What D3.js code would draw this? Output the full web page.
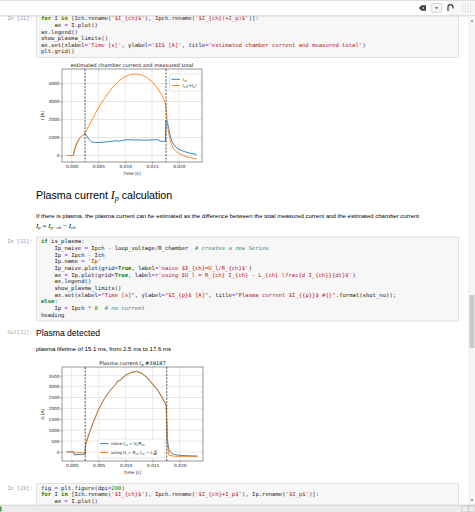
<!DOCTYPE html>
<html>
<head>
<meta charset="utf-8">
<script src="https://cdn.jsdelivr.net/npm/d3@7"></script>
<style>
  body { margin: 0; overflow: hidden; background: #fff; }
  svg { display: block; }
</style>
</head>
<body>
<div id="page"></div>
<script>
// notebook page with two matplotlib-style plots, drawn with d3

const W = 475, H = 512;

// ---- data ----
// chart 1: estimated chamber current and measured total
const ichTime   = [-0.0009, 0.0003, 0.0006, 0.001, 0.0015, 0.002, 0.0025, 0.0028, 0.0032, 0.0037, 0.0045, 0.0055, 0.0065, 0.0075, 0.0083, 0.0088, 0.0095, 0.0105, 0.0115, 0.0125, 0.0135, 0.0145, 0.0155, 0.016, 0.0165, 0.0172, 0.0175, 0.0176, 0.0179, 0.0182, 0.0186, 0.019, 0.0195, 0.020, 0.021, 0.022, 0.0233];
const ichValues = [0, 0, 380, 700, 960, 1100, 1230, 1100, 900, 760, 720, 730, 760, 790, 820, 790, 840, 880, 860, 870, 850, 860, 870, 880, 800, 780, 790, 1950, 1800, 1350, 850, 620, 450, 340, 220, 130, 60];

const ipchTime   = [-0.0009, 0.0003, 0.0006, 0.001, 0.0015, 0.002, 0.0025, 0.003, 0.004, 0.005, 0.006, 0.007, 0.008, 0.009, 0.010, 0.011, 0.012, 0.013, 0.014, 0.015, 0.016, 0.017, 0.0175, 0.0177, 0.018, 0.0185, 0.019, 0.0195, 0.020, 0.021, 0.022, 0.0233];
const ipchValues = [0, 0, 380, 700, 960, 1100, 1240, 1530, 2100, 2640, 3120, 3540, 3900, 4190, 4390, 4500, 4530, 4480, 4340, 4100, 3750, 3250, 2900, 2300, 1400, 700, 380, 220, 110, -20, -110, -190];

// chart 2: plasma current
const ipTime   = [-0.0009, 0.0003, 0.0005, 0.0025, 0.00255, 0.003, 0.004, 0.005, 0.006, 0.007, 0.008, 0.009, 0.010, 0.011, 0.012, 0.013, 0.014, 0.015, 0.016, 0.017, 0.0175, 0.0177, 0.018, 0.019, 0.021, 0.0233];
const ipValues = [0, 0, -30, -40, 300, 700, 1370, 1950, 2420, 2780, 3080, 3330, 3520, 3640, 3690, 3610, 3420, 3130, 2830, 2420, 2150, 400, -150, -200, -200, -200];

const ipNaiveTime   = [-0.0009, 0.0003, 0.0005, 0.0015, 0.0025, 0.00255, 0.003, 0.004, 0.005, 0.006, 0.007, 0.008, 0.0085, 0.009, 0.010, 0.011, 0.012, 0.013, 0.014, 0.015, 0.016, 0.017, 0.0175, 0.0177, 0.018, 0.0185, 0.019, 0.020, 0.021, 0.0233];
const ipNaiveValues = [10, 10, -130, -110, -100, 280, 680, 1360, 1960, 2430, 2790, 3060, 3250, 3290, 3530, 3650, 3700, 3600, 3400, 3100, 2800, 2380, 2120, 600, 100, -60, -120, -150, -170, -190];

const plasmaLimits = [0.0025, 0.0176];
const xTicks  = [0, 0.005, 0.010, 0.015, 0.020];
const yTicks1 = [0, 1000, 2000, 3000, 4000];
const yTicks2 = [0, 500, 1000, 1500, 2000, 2500, 3000, 3500];
const xLimits  = [-0.00179, 0.02431];
const yLimits1 = [-361, 4806];
const yLimits2 = [-413, 3899];
const shotNo = 39187;

// ---- notebook text ----
const cell21 = [
  "for I in [Ich.rename('$I_{ch}$'), Ipch.rename('$I_{ch}(+I_p)$')]:",
  "    ax = I.plot()",
  "ax.legend()",
  "show_plasma_limits()",
  "ax.set(xlabel='Time [s]', ylabel='$I$ [A]', title='estimated chamber current and measured total')",
  "plt.grid()"
];
const cell22 = [
  "if is_plasma:",
  "    Ip_naive = Ipch - loop_voltage/R_chamber  # creates a new Series",
  "    Ip = Ipch - Ich",
  "    Ip.name = 'Ip'",
  "    Ip_naive.plot(grid=True, label='naive $I_{ch}=U_l/R_{ch}$')",
  "    ax = Ip.plot(grid=True, label=r'using $U_l = R_{ch} I_{ch} - L_{ch} \\frac{d I_{ch}}{dt}$')",
  "    ax.legend()",
  "    show_plasma_limits()",
  "    ax.set(xlabel=\"Time [s]\", ylabel=\"$I_{p}$ [A]\", title=\"Plasma current $I_{{p}}$ #{}\".format(shot_no));",
  "else:",
  "    Ip = Ipch * 0  # no current",
  "heading"
];
const cell23 = [
  "fig = plt.figure(dpi=200)",
  "for I in [Ich.rename('$I_{ch}$'), Ipch.rename('$I_{ch}+I_p$'), Ip.rename('$I_p$')]:",
  "    ax = I.plot()"
];
const paragraph = "If there is plasma, the plasma current can be estimated as the difference between the total measured current and the estimated chamber current";
const lifetime = "plasma lifetime of 15.1 ms, from 2.5 ms to 17.6 ms";

// ---- styling ----
const MONO = "'DejaVu Sans Mono', monospace";
const SANS = "'Liberation Sans', Arial, sans-serif";
const MPL = "'DejaVu Sans', sans-serif";
const SERIF = "'Liberation Serif', 'DejaVu Serif', serif";
const BLUE = '#1f77b4', ORANGE = '#ff7f0e';
const CODE_X = 41, CHAR_W = 3.35, LINE_H = 6.65;

const svg = d3.select('#page').append('svg')
  .attr('width', W).attr('height', H);

svg.append('rect').attr('width', W).attr('height', H).attr('fill', '#fff');

// tiny python highlighter, jupyter classic colours
function tokens(line) {
  const re = /(#.*$)|([rR]?'[^']*'|[rR]?"[^"]*")|\b(for|in|if|else|True|False|None)\b|(\b\d+\b)|([=+\-*\/])|(\s+|\w+|.)/g;
  const out = [];
  let m;
  while ((m = re.exec(line)) !== null) {
    let style = {fill: '#1a1a1a'};
    if (m[1]) style = {fill: '#408080', italic: true};
    else if (m[2]) style = {fill: '#BA2121'};
    else if (m[3]) style = {fill: '#008000', bold: true};
    else if (m[4]) style = {fill: '#008800'};
    else if (m[5]) style = {fill: '#AA22FF'};
    if (m[0].trim() !== '') out.push({text: m[0], col: m.index, style: style});
  }
  return out;
}

function codeCell(prompt, lines, top, bottom, firstY) {
  svg.append('rect')
    .attr('x', 36.5).attr('y', top)
    .attr('width', 422).attr('height', bottom - top)
    .attr('rx', 1)
    .attr('fill', '#f7f7f7').attr('stroke', '#cfcfcf').attr('stroke-width', 0.6);
  svg.append('text')
    .attr('x', 32.5).attr('y', firstY + 1.7)
    .attr('text-anchor', 'end')
    .attr('font-family', MONO).attr('font-size', 5.2)
    .attr('fill', '#8d8fa0')
    .text(prompt);
  lines.forEach(function(ln, i) {
    const t = svg.append('text')
      .attr('y', firstY + i * LINE_H + 1.7)
      .attr('font-family', MONO).attr('font-size', 5.56);
    tokens(ln).forEach(function(tok) {
      t.append('tspan')
        .attr('x', CODE_X + tok.col * CHAR_W)
        .attr('fill', tok.style.fill)
        .attr('font-weight', tok.style.bold ? 'bold' : null)
        .attr('font-style', tok.style.italic ? 'italic' : null)
        .text(tok.text);
    });
  });
}

// ---- plot helper ----
function drawChart(cfg) {
  const g = svg.append('g');
  const x = d3.scaleLinear().domain(xLimits).range([cfg.left, cfg.right]);
  const y = d3.scaleLinear().domain(cfg.yLimits).range([cfg.bottom, cfg.top]);

  // grid
  g.append('g').selectAll('line').data(xTicks).join('line')
    .attr('x1', d => x(d)).attr('x2', d => x(d))
    .attr('y1', cfg.top).attr('y2', cfg.bottom)
    .attr('stroke', '#d6d6d6').attr('stroke-width', 0.6);
  g.append('g').selectAll('line').data(cfg.yTicks).join('line')
    .attr('x1', cfg.left).attr('x2', cfg.right)
    .attr('y1', d => y(d)).attr('y2', d => y(d))
    .attr('stroke', '#d6d6d6').attr('stroke-width', 0.6);

  const clipId = 'clip' + cfg.id;
  g.append('clipPath').attr('id', clipId).append('rect')
    .attr('x', cfg.left).attr('y', cfg.top)
    .attr('width', cfg.right - cfg.left).attr('height', cfg.bottom - cfg.top);

  const line = d3.line().x(d => x(d[0])).y(d => y(d[1]));
  cfg.series.forEach(function(s) {
    g.append('path')
      .datum(d3.zip(s.t, s.v))
      .attr('clip-path', 'url(#' + clipId + ')')
      .attr('d', line)
      .attr('fill', 'none').attr('stroke', s.color)
      .attr('stroke-width', 0.9).attr('stroke-linejoin', 'round');
  });

  // plasma start / end
  g.append('g').selectAll('line').data(plasmaLimits).join('line')
    .attr('x1', d => x(d)).attr('x2', d => x(d))
    .attr('y1', cfg.top).attr('y2', cfg.bottom)
    .attr('stroke', '#333').attr('stroke-width', 0.8)
    .attr('stroke-dasharray', '2.2,1.2');

  // axes
  const ax = g.append('g').attr('transform', 'translate(0,' + cfg.bottom + ')')
    .call(d3.axisBottom(x).tickValues(xTicks).tickFormat(d3.format('.3f'))
      .tickSize(1.4).tickPadding(2));
  const ay = g.append('g').attr('transform', 'translate(' + cfg.left + ',0)')
    .call(d3.axisLeft(y).tickValues(cfg.yTicks).tickFormat(d3.format('d'))
      .tickSize(1.4).tickPadding(1.1));
  [ax, ay].forEach(function(a) {
    a.select('.domain').remove();
    a.selectAll('line').attr('stroke', '#444').attr('stroke-width', 0.5);
    a.selectAll('text').attr('font-family', MPL).attr('font-size', 4.3).attr('fill', '#222');
  });

  g.append('rect')
    .attr('x', cfg.left).attr('y', cfg.top)
    .attr('width', cfg.right - cfg.left).attr('height', cfg.bottom - cfg.top)
    .attr('fill', 'none').attr('stroke', '#444').attr('stroke-width', 0.55);

  // title and labels
  const cx = (cfg.left + cfg.right) / 2;
  const title = g.append('text')
    .attr('x', cx).attr('y', cfg.top - 2.2)
    .attr('text-anchor', 'middle')
    .attr('font-family', MPL).attr('font-size', 5.15).attr('fill', '#111');
  cfg.title(title);

  g.append('text')
    .attr('x', cx).attr('y', cfg.bottom + 13.2)
    .attr('text-anchor', 'middle')
    .attr('font-family', MPL).attr('font-size', 4.3).attr('fill', '#222')
    .text('Time [s]');

  const yl = g.append('text')
    .attr('transform', 'translate(' + (cfg.left - 18.5) + ',' + ((cfg.top + cfg.bottom) / 2) + ') rotate(-90)')
    .attr('text-anchor', 'middle')
    .attr('font-family', MPL).attr('font-size', 4.3).attr('fill', '#222');
  cfg.ylabel(yl);

  // legend
  const L = cfg.legend;
  g.append('rect')
    .attr('x', L.x).attr('y', L.y).attr('width', L.w).attr('height', L.h)
    .attr('rx', 1).attr('fill', 'rgba(255,255,255,0.85)')
    .attr('stroke', '#cccccc').attr('stroke-width', 0.5);
  L.rows.forEach(function(r, i) {
    const ry = L.y + L.rowY[i];
    g.append('line')
      .attr('x1', L.x + 2).attr('x2', L.x + 10.5)
      .attr('y1', ry).attr('y2', ry)
      .attr('stroke', cfg.series[i].color).attr('stroke-width', 0.9);
    const t = g.append('text')
      .attr('x', L.x + 13).attr('y', ry + 1.4)
      .attr('font-family', MPL).attr('font-size', 4.0).attr('fill', '#222');
    r(t, L.x + 13, ry);
  });
}

// subscript helper for mathtext-like labels
function mathI(t, sub, rest) {
  t.append('tspan').attr('font-style', 'italic').text('I');
  if (sub) t.append('tspan').attr('font-size', '70%').attr('dy', 0.9).text(sub);
  if (rest) t.append('tspan').attr('dy', sub ? -0.9 : 0).text(rest);
}

// ---- cells ----
codeCell('In [21]:', cell21, 10, 57.5, 18.5);

drawChart({
  id: 1, left: 62, right: 202, top: 69, bottom: 162,
  yLimits: yLimits1, yTicks: yTicks1,
  series: [
    {t: ichTime, v: ichValues, color: BLUE},
    {t: ipchTime, v: ipchValues, color: ORANGE}
  ],
  title: t => t.text('estimated chamber current and measured total'),
  ylabel: t => mathI(t, null, ' [A]'),
  legend: {
    x: 169.5, y: 74, w: 31.5, h: 17, rowY: [5.3, 11.5],
    rows: [
      t => mathI(t, 'ch'),
      t => { mathI(t, 'ch', '(+'); t.append('tspan').attr('font-style', 'italic').text('I');
             t.append('tspan').attr('font-size', '70%').attr('dy', 0.9).text('p');
             t.append('tspan').attr('dy', -0.9).text(')'); }
    ]
  }
});

// markdown cell
const head = svg.append('text').attr('x', 36).attr('y', 199)
  .attr('font-family', SANS).attr('font-size', 10.7).attr('fill', '#000');
head.append('tspan').text('Plasma current ');
head.append('tspan').attr('font-family', SERIF).attr('font-style', 'italic').attr('font-size', 11.8).text('I');
head.append('tspan').attr('font-family', SERIF).attr('font-style', 'italic').attr('font-size', 8).attr('dy', 2.2).text('p');
head.append('tspan').attr('dy', -2.2).text(' calculation');

svg.append('text').attr('x', 36).attr('y', 217.6)
  .attr('font-family', SANS).attr('font-size', 5.5).attr('fill', '#000')
  .attr('textLength', 383).attr('lengthAdjust', 'spacingAndGlyphs')
  .text(paragraph);

const eq = svg.append('text').attr('x', 36).attr('y', 228)
  .attr('font-family', SERIF).attr('font-size', 7).attr('fill', '#000');
eq.append('tspan').attr('font-style', 'italic').text('I');
eq.append('tspan').attr('font-style', 'italic').attr('font-size', 5).attr('dy', 1.4).text('p');
eq.append('tspan').attr('dy', -1.4).text(' = ');
eq.append('tspan').attr('font-style', 'italic').text('I');
eq.append('tspan').attr('font-style', 'italic').attr('font-size', 5).attr('dy', 1.4).text('p+ch');
eq.append('tspan').attr('dy', -1.4).text(' \u2212 ');
eq.append('tspan').attr('font-style', 'italic').text('I');
eq.append('tspan').attr('font-style', 'italic').attr('font-size', 5).attr('dy', 1.4).text('ch');

codeCell('In [22]:', cell22, 237, 321, 241.7);

svg.append('text').attr('x', 32.5).attr('y', 334)
  .attr('text-anchor', 'end')
  .attr('font-family', MONO).attr('font-size', 5.2).attr('fill', '#a89a98')
  .text('Out[22]:');
svg.append('text').attr('x', 36).attr('y', 336)
  .attr('font-family', SANS).attr('font-size', 8.6).attr('fill', '#000')
  .text('Plasma detected');
svg.append('text').attr('x', 36).attr('y', 351)
  .attr('font-family', SANS).attr('font-size', 5.5).attr('fill', '#000')
  .attr('textLength', 135).attr('lengthAdjust', 'spacingAndGlyphs')
  .text(lifetime);

drawChart({
  id: 2, left: 62, right: 203, top: 367, bottom: 461,
  yLimits: yLimits2, yTicks: yTicks2,
  series: [
    {t: ipNaiveTime, v: ipNaiveValues, color: BLUE},
    {t: ipTime, v: ipValues, color: ORANGE}
  ],
  title: t => { t.append('tspan').text('Plasma current ');
                t.append('tspan').attr('font-style', 'italic').text('I');
                t.append('tspan').attr('font-size', '70%').attr('dy', 1).text('p');
                t.append('tspan').attr('dy', -1).text(' #' + shotNo); },
  ylabel: t => mathI(t, 'p', ' [A]'),
  legend: {
    x: 98, y: 439, w: 67, h: 19, rowY: [4.6, 13.5],
    rows: [
      t => { t.append('tspan').text('naive ');
             mathI(t, 'ch', ' = ');
             t.append('tspan').attr('font-style', 'italic').text('U');
             t.append('tspan').attr('font-size', '70%').attr('dy', 0.9).text('l');
             t.append('tspan').attr('dy', -0.9).text('/');
             t.append('tspan').attr('font-style', 'italic').text('R');
             t.append('tspan').attr('font-size', '70%').attr('dy', 0.9).text('ch'); },
      (t, x0, ry) => {
             t.append('tspan').text('using ');
             t.append('tspan').attr('font-style', 'italic').text('U');
             t.append('tspan').attr('font-size', '70%').attr('dy', 0.9).text('l');
             t.append('tspan').attr('dy', -0.9).text(' = ');
             t.append('tspan').attr('font-style', 'italic').text('R');
             t.append('tspan').attr('font-size', '70%').attr('dy', 0.9).text('ch');
             t.append('tspan').attr('dy', -0.9).attr('font-style', 'italic').text(' I');
             t.append('tspan').attr('font-size', '70%').attr('dy', 0.9).text('ch');
             t.append('tspan').attr('dy', -0.9).text(' \u2212 ');
             t.append('tspan').attr('font-style', 'italic').text('L');
             t.append('tspan').attr('font-size', '70%').attr('dy', 0.9).text('ch');
             // small fraction dI/dt
             const fx = x0 + 44.5;
             const p = d3.select(t.node().parentNode);
             p.append('text').attr('x', fx).attr('y', ry - 0.6).attr('text-anchor', 'middle')
               .attr('font-family', MPL).attr('font-size', 2.8).attr('font-style', 'italic').attr('fill', '#222').text('dI');
             p.append('line').attr('x1', fx - 2).attr('x2', fx + 2).attr('y1', ry + 0.1).attr('y2', ry + 0.1)
               .attr('stroke', '#222').attr('stroke-width', 0.25);
             p.append('text').attr('x', fx).attr('y', ry + 2.8).attr('text-anchor', 'middle')
               .attr('font-family', MPL).attr('font-size', 2.8).attr('font-style', 'italic').attr('fill', '#222').text('dt');
      }
    ]
  }
});

codeCell('In [23]:', cell23, 483.5, 530, 488);

// ---- browser chrome, drawn last so it covers the scrolled cell ----
svg.append('rect').attr('x', 0).attr('y', 0).attr('width', W).attr('height', 16)
  .attr('fill', '#f7f7f7');
svg.append('rect').attr('x', 0).attr('y', 1).attr('width', 447).attr('height', 14.5)
  .attr('fill', '#fff');
svg.append('line').attr('x1', 0).attr('x2', W).attr('y1', 15.9).attr('y2', 15.9)
  .attr('stroke', '#c4c4c4').attr('stroke-width', 0.8);
svg.append('line').attr('x1', 0).attr('x2', W).attr('y1', 0.5).attr('y2', 0.5)
  .attr('stroke', '#d8d8d8').attr('stroke-width', 0.8);
svg.append('path').attr('d', 'M419,8 L421.5,5.2 L426,5.2 L426,10.8 L421.5,10.8 Z').attr('fill', '#333');
svg.append('path').attr('d', 'M422,6.8 L424.5,9.2 M424.5,6.8 L422,9.2').attr('stroke', '#fff').attr('stroke-width', 0.7);
svg.append('rect').attr('x', 431).attr('y', 3.5).attr('width', 11).attr('height', 9).attr('rx', 1)
  .attr('fill', '#f4f4f4').attr('stroke', '#bdbdbd').attr('stroke-width', 0.5);
svg.append('path').attr('d', 'M435.2,7.3 L438,7.3 L436.6,9.1 Z').attr('fill', '#333');
svg.append('path').attr('d', 'M448,11 L448,7 Q448,4.6 450.5,4.6 Q453,4.6 453,7 L453,8.5')
  .attr('fill', 'none').attr('stroke', '#333').attr('stroke-width', 1.2);
for (let i = 0; i < 4; i++) for (let j = 0; j < 4; j++) {
  svg.append('circle').attr('cx', 463 + i * 2.5).attr('cy', 4 + j * 2.5).attr('r', 0.45).attr('fill', '#9a9a9a');
}

// ---- scrollbars / status bar ----
svg.append('rect').attr('x', 469).attr('y', 16).attr('width', 6).attr('height', 489).attr('fill', '#f6f6f6');
svg.append('line').attr('x1', 469).attr('x2', 469).attr('y1', 16).attr('y2', 505)
  .attr('stroke', '#e2e2e2').attr('stroke-width', 0.6);
svg.append('rect').attr('x', 469.6).attr('y', 295).attr('width', 4.8).attr('height', 53).attr('fill', '#c9c9c9');
svg.append('path').attr('d', 'M470.7,21.6 L473.3,21.6 L472,20 Z').attr('fill', '#444');
svg.append('path').attr('d', 'M470.7,499.5 L473.3,499.5 L472,501.1 Z').attr('fill', '#444');
svg.append('rect').attr('x', 0).attr('y', 505).attr('width', W).attr('height', 7).attr('fill', '#ececec');
svg.append('line').attr('x1', 0).attr('x2', W).attr('y1', 505.2).attr('y2', 505.2)
  .attr('stroke', '#bdbdbd').attr('stroke-width', 0.6);
svg.append('rect').attr('x', 0).attr('y', 506.5).attr('width', 1.5).attr('height', 5).attr('fill', '#3c9a3c');
svg.append('rect').attr('x', 461.5).attr('y', 506).attr('width', 6.5).attr('height', 6).attr('fill', 'none')
  .attr('stroke', '#b5b5b5').attr('stroke-width', 0.5);
svg.append('rect').attr('x', 468.5).attr('y', 506).attr('width', 6.5).attr('height', 6).attr('fill', 'none')
  .attr('stroke', '#b5b5b5').attr('stroke-width', 0.5);
</script>
</body>
</html>
